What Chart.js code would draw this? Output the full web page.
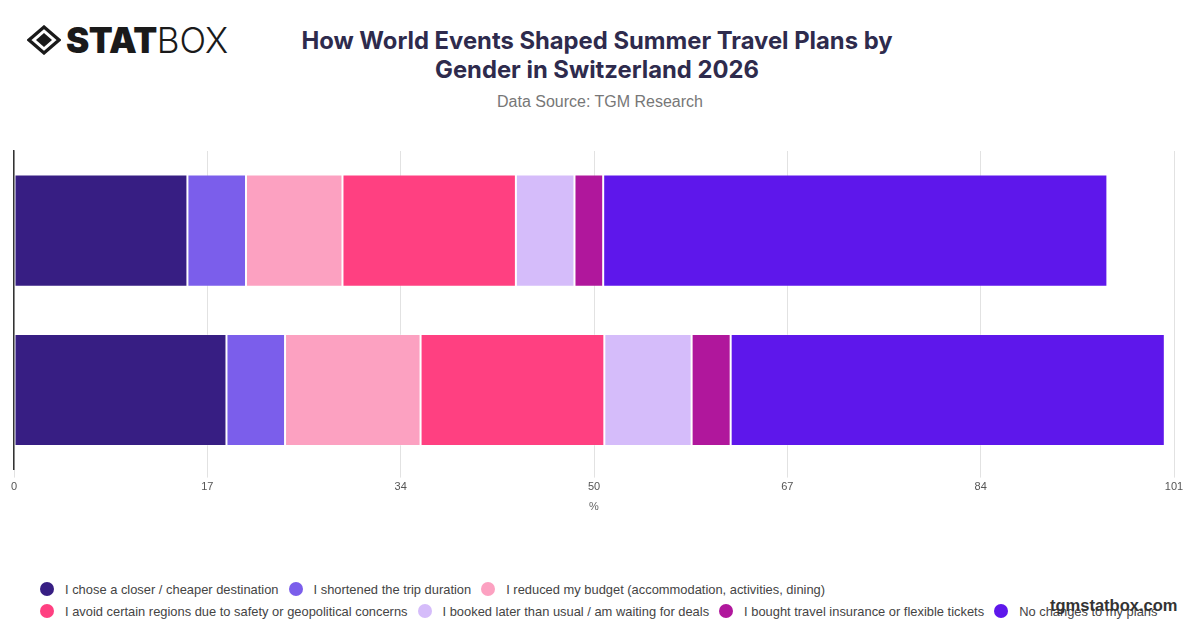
<!DOCTYPE html>
<html>
<head>
<meta charset="utf-8">
<script src="https://cdn.jsdelivr.net/npm/chart.js@4.4.1/dist/chart.umd.min.js"></script>
<style>
    body { margin: 0; width: 1200px; height: 628px; background: #fff; position: relative; overflow: hidden; font-family: Inter, "Noto Sans", sans-serif; }
    .logo { position: absolute; left: 27px; top: 24px; height: 32px; display: flex; align-items: center; }
    .logo svg { width: 34px; height: 30px; margin-right: 5px; }
    .logo .stat { font-family: Inter, sans-serif; font-weight: 900; font-size: 35px; color: #1a1a1a; line-height: 32px; letter-spacing: -0.5px; }
    .logo .box { font-family: Inter, sans-serif; font-weight: 300; font-size: 35px; color: #1a1a1a; line-height: 32px; }
    .title { position: absolute; left: 0; width: 1194px; top: 26px; text-align: center; font-weight: 700; font-size: 23.8px; line-height: 29px; color: #2e2b4d; }
    .subtitle { position: absolute; left: 0; width: 1200px; top: 93px; text-align: center; font-size: 16px; color: #777; font-family: "Liberation Sans", Arial, sans-serif; }
    .chart-wrap { position: absolute; left: 0; top: 140px; width: 1200px; height: 384px; }
    .legend { position: absolute; left: 40px; top: 578px; width: 1150px; font-family: "Liberation Sans", Arial, sans-serif; font-size: 12.9px; color: #444; }
    .legend .row { display: flex; align-items: center; height: 22px; }
    .legend .item { display: flex; align-items: center; margin-right: 10px; white-space: nowrap; }
    .legend .dot { width: 14px; height: 14px; border-radius: 50%; margin-right: 11px; }
    .watermark { position: absolute; left: 1050px; top: 596px; font-family: "Liberation Sans", Arial, sans-serif; font-weight: 700; font-size: 16.5px; color: #333; }
</style>
</head>
<body>
<div class="logo">
    <svg viewBox="0 0 34 30">
        <polygon points="17,2 32,15 17,28 2,15" fill="none" stroke="#1a1a1a" stroke-width="3.2"/>
        <polygon points="17,8 25,15 17,22 9,15" fill="#1a1a1a"/>
    </svg>
    <span class="stat">STAT</span><span class="box">BOX</span>
</div>
<div class="title">How World Events Shaped Summer Travel Plans by<br>Gender in Switzerland 2026</div>
<div class="subtitle">Data Source: TGM Research</div>
<div class="chart-wrap"><canvas id="travelChart"></canvas></div>
<div class="legend" id="legend"></div>
<div class="watermark">tgmstatbox.com</div>

<script>
const categories = ['Male', 'Female'];

const seriesNames = [
    'I chose a closer / cheaper destination',
    'I shortened the trip duration',
    'I reduced my budget (accommodation, activities, dining)',
    'I avoid certain regions due to safety or geopolitical concerns',
    'I booked later than usual / am waiting for deals',
    'I bought travel insurance or flexible tickets',
    'No changes to my plans'
];

const closerCheaper = [15.1, 18.5];
const shortenedTrip = [5.1, 5.1];
const reducedBudget = [8.4, 11.8];
const avoidRegions = [15.1, 16.0];
const bookedLater = [5.1, 7.6];
const travelInsurance = [2.5, 3.4];
const noChanges = [43.9, 37.8];

const tickLabels = ['0', '17', '34', '50', '67', '84', '101'];
const axisMax = 101;

const colors = ['#371E83', '#7B5EEB', '#FCA1C1', '#FF4081', '#D5BCFA', '#B0179C', '#5E17EB'];

function initializeTravelChart() {
    const ctx = document.getElementById('travelChart');
    const values = [closerCheaper, shortenedTrip, reducedBudget, avoidRegions, bookedLater, travelInsurance, noChanges];

    const datasets = seriesNames.map(function (name, i) {
        return {
            label: name,
            data: values[i],
            backgroundColor: colors[i],
            borderColor: 'rgba(255,255,255,0.25)',
            borderWidth: 1,
            borderSkipped: false,
            barPercentage: 0.88,
            categoryPercentage: 0.8
        };
    });

    new Chart(ctx, {
        type: 'bar',
        data: {
            labels: categories,
            datasets: datasets
        },
        options: {
            indexAxis: 'y',
            responsive: true,
            maintainAspectRatio: false,
            animation: false,
            layout: {
                padding: { left: 6, right: 26, top: 11, bottom: 6 }
            },
            plugins: {
                legend: { display: false },
                tooltip: { enabled: false }
            },
            scales: {
                x: {
                    stacked: true,
                    min: 0,
                    max: axisMax,
                    afterBuildTicks: function (scale) {
                        scale.ticks = tickLabels.map(function (t, i) {
                            return { value: axisMax * i / (tickLabels.length - 1) };
                        });
                    },
                    ticks: {
                        color: '#555',
                        font: { family: 'Liberation Sans, Arial', size: 11 },
                        maxRotation: 0,
                        callback: function (value, index) {
                            return tickLabels[index];
                        }
                    },
                    grid: { color: '#e2e2e2', drawTicks: true },
                    border: { display: false },
                    title: {
                        display: true,
                        text: '%',
                        color: '#666',
                        font: { family: 'Liberation Sans, Arial', size: 11 }
                    }
                },
                y: {
                    stacked: true,
                    ticks: { display: false },
                    grid: { display: false },
                    border: { display: true, color: '#333', width: 1.5 }
                }
            }
        }
    });

    const legend = document.getElementById('legend');
    const rows = [[0, 1, 2], [3, 4, 5, 6]];
    rows.forEach(function (row) {
        const rowEl = document.createElement('div');
        rowEl.className = 'row';
        row.forEach(function (i) {
            const item = document.createElement('div');
            item.className = 'item';
            item.innerHTML = '<span class="dot" style="background:' + colors[i] + '"></span>' + seriesNames[i];
            rowEl.appendChild(item);
        });
        legend.appendChild(rowEl);
    });
}

window.addEventListener('load', initializeTravelChart);
</script>
</body>
</html>
